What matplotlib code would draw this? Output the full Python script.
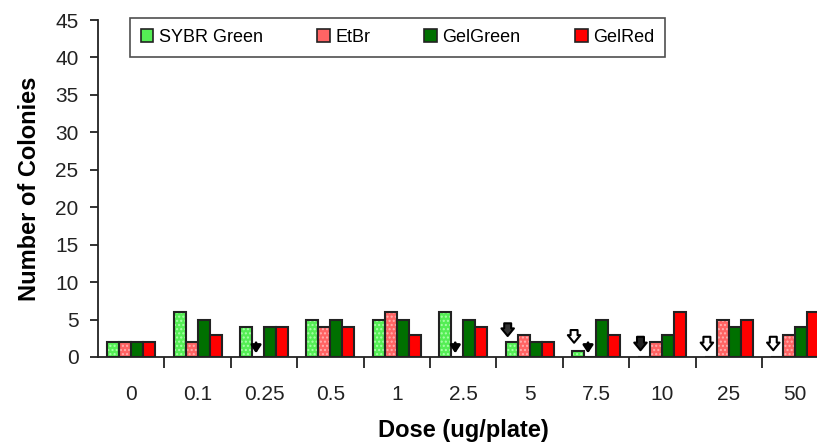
import matplotlib
matplotlib.use("Agg")
import matplotlib.pyplot as plt
from matplotlib.patches import Rectangle
import numpy as np

plt.rcParams['font.family'] = ['Liberation Sans', 'DejaVu Sans']

doses = ["0", "0.1", "0.25", "0.5", "1", "2.5", "5", "7.5", "10", "25", "50"]
series_names = ["SYBR Green", "EtBr", "GelGreen", "GelRed"]
sybr = [2, 6, 4, 5, 5, 6, 2, 0.8, 0, 0, 0]
etbr = [2, 2, 0, 4, 6, 0, 3, 0, 2, 5, 3]
gelgreen = [2, 5, 4, 5, 5, 5, 2, 5, 3, 4, 4]
gelred = [2, 3, 4, 4, 3, 4, 2, 3, 6, 5, 6]
values = [sybr, etbr, gelgreen, gelred]

face_colors = ["#55EE55", "#FF6464", "#007000", "#FF0000"]
hatch_colors = ["#AAFFAA", "#FFB0B0", None, None]

# large block arrows above SYBR slot: (group index, top value, bottom value, fill)
big_arrow_groups = [6, 7, 8, 9, 10]
big_arrow_top = [4.5, 3.6, 2.7, 2.7, 2.7]
big_arrow_bottom = [2.8, 1.9, 0.9, 0.9, 0.9]
big_arrow_fill = ["#333333", "white", "#222222", "white", "white"]

# small arrows at EtBr slot
small_arrow_groups = [2, 5, 7]
small_arrow_top = [1.9, 1.9, 1.9]
small_arrow_bottom = [0.5, 0.5, 0.5]

fig = plt.figure(figsize=(8.17, 4.46), dpi=100)
gw = 66.4 / 817
ax = fig.add_axes([98 / 817, 89 / 446, 11 * gw, 337 / 446])

x = np.arange(len(doses))
w = 0.18
offsets = [-1.5 * w, -0.5 * w, 0.5 * w, 1.5 * w]
for vals, off, fc, hc in zip(values, offsets, face_colors, hatch_colors):
    if hc is not None:
        ax.bar(x + off, vals, width=w, color=fc, edgecolor=hc, hatch='....', linewidth=0, zorder=2)
        ax.bar(x + off, vals, width=w, fill=False, edgecolor='#222222', linewidth=1.5, zorder=3)
    else:
        ax.bar(x + off, vals, width=w, color=fc, edgecolor='#222222', linewidth=1.5, zorder=3)

for g, t, b, f in zip(big_arrow_groups, big_arrow_top, big_arrow_bottom, big_arrow_fill):
    xx = g + offsets[0] - 0.06
    ax.annotate('', xy=(xx, b), xytext=(xx, t),
                arrowprops=dict(arrowstyle='simple,head_length=0.55,head_width=0.9,tail_width=0.5',
                                fc=f, ec='black', lw=1.5, shrinkA=0, shrinkB=0), zorder=4)

for g, t, b in zip(small_arrow_groups, small_arrow_top, small_arrow_bottom):
    xx = g + offsets[1] - 0.03
    ax.annotate('', xy=(xx, b), xytext=(xx, t),
                arrowprops=dict(arrowstyle='-|>,head_length=0.45,head_width=0.3',
                                fc='black', ec='black', lw=2, shrinkA=0, shrinkB=0), zorder=4)

ax.set_xlim(-0.5, 10.5)
ax.set_ylim(0, 45)
ax.set_yticks(np.arange(0, 46, 5))
ax.set_xticks(x)
ax.set_xticklabels(doses)
ax.set_xticks(np.arange(0.5, 10.5, 1), minor=True)
ax.tick_params(axis='x', which='major', length=0, pad=20, labelsize=15, colors='#222222')
ax.tick_params(axis='x', which='minor', length=8, width=1.3, direction='out', color='#222222')
ax.tick_params(axis='y', length=6, width=1.3, direction='out', pad=8, labelsize=15, colors='#222222')

for s in ['top', 'right']:
    ax.spines[s].set_visible(False)
for s in ['left', 'bottom']:
    ax.spines[s].set_linewidth(1.3)
    ax.spines[s].set_color('#222222')

ax.set_ylabel("Number of Colonies", fontsize=17, fontweight='bold', labelpad=10)
ax.set_xlabel("Dose (ug/plate)", fontsize=17, fontweight='bold', labelpad=11)

handles = []
for fc, hc in zip(face_colors, hatch_colors):
    handles.append(Rectangle((0, 0), 1, 1, facecolor=fc, edgecolor='#222222', linewidth=1.2))
leg = fig.legend(handles, series_names, loc='center', ncol=4, mode='expand',
                 bbox_to_anchor=(130 / 817, 1 - 58 / 446, (665 - 130) / 817, 41 / 446),
                 fontsize=13, frameon=True, fancybox=False, edgecolor='#222222',
                 handlelength=0.7, handleheight=0.7, handletextpad=0.3, borderaxespad=0,
                 borderpad=0.6)
leg.get_frame().set_linewidth(1.2)

fig.savefig("out.png", dpi=100)
